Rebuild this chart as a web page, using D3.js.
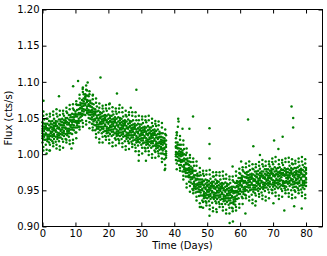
<!DOCTYPE html>
<html>
<head>
<meta charset="utf-8">
<script src="https://cdn.jsdelivr.net/npm/d3@7/dist/d3.min.js"></script>
<style>
  body { margin: 0; background: #fff; }
  svg { display: block; font-family: "DejaVu Sans", sans-serif; }
</style>
</head>
<body>
<div id="chart"></div>
<script>
// rows: [time (days), flux values read at that time ...]
var rise = [
  [0.0,1.035,1.022,1.044,1.029,1.039,1.016,1.032,1.025],
  [0.5,1.027,1.042,1.020,1.038,1.032,1.048,1.024,1.035],
  [1.0,1.037,1.029,1.020,1.042,1.013,1.035,1.039,1.027],
  [1.5,1.024,1.033,1.042,1.018,1.036,1.027,1.049,1.021],
  [2.0,1.033,1.021,1.040,1.046,1.027,1.024,1.035,1.016],
  [2.5,1.029,1.038,1.025,1.042,1.045,1.020,1.031,1.037],
  [3.0,1.037,1.024,1.046,1.031,1.041,1.018,1.034,1.027],
  [3.5,1.028,1.043,1.021,1.039,1.033,1.049,1.025,1.036],
  [4.0,1.041,1.033,1.024,1.046,1.017,1.039,1.043,1.031],
  [4.5,1.027,1.036,1.045,1.021,1.039,1.030,1.052,1.024],
  [5.0,1.035,1.023,1.042,1.048,1.029,1.026,1.037,1.018],
  [5.5,1.032,1.041,1.028,1.045,1.048,1.023,1.034,1.040],
  [6.0,1.040,1.027,1.049,1.034,1.044,1.021,1.037,1.030],
  [6.5,1.032,1.047,1.025,1.043,1.037,1.053,1.029,1.040],
  [7.0,1.045,1.037,1.028,1.050,1.021,1.043,1.047,1.035],
  [7.5,1.032,1.041,1.050,1.026,1.044,1.035,1.057,1.029],
  [8.0,1.041,1.029,1.048,1.054,1.035,1.032,1.043,1.024],
  [8.5,1.038,1.047,1.034,1.051,1.054,1.029,1.040,1.046],
  [9.0,1.047,1.034,1.056,1.041,1.051,1.028,1.044,1.037],
  [9.5,1.040,1.055,1.033,1.051,1.045,1.061,1.037,1.048],
  [10.0,1.054,1.046,1.037,1.059,1.030,1.052,1.056,1.044],
  [10.5,1.043,1.052,1.061,1.037,1.055,1.046,1.068,1.040],
  [11.0,1.055,1.043,1.062,1.068,1.049,1.046,1.057,1.038],
  [11.5,1.055,1.064,1.051,1.068,1.071,1.046,1.057,1.063],
  [12.0,1.066,1.053,1.075,1.060,1.070,1.047,1.063,1.056],
  [12.5,1.062,1.077,1.055,1.073,1.067,1.083,1.059,1.070],
  [13.0,1.078,1.070,1.061,1.083,1.054,1.076,1.080,1.068],
  [13.5,1.063,1.072,1.081,1.057,1.075,1.066,1.088,1.060],
  [14.0,1.067,1.055,1.074,1.080,1.061,1.058,1.069,1.050],
  [14.5,1.058,1.067,1.054,1.071,1.074,1.049,1.060,1.066],
  [15.0,1.061,1.048,1.070,1.055,1.065,1.042,1.058,1.051],
  [15.5,1.048,1.063,1.041,1.059,1.053,1.069,1.045,1.056],
  [16.0,1.057,1.049,1.040,1.062,1.033,1.055,1.059,1.047],
  [16.5,1.041,1.050,1.059,1.035,1.053,1.044,1.066,1.038],
  [17.0,1.047,1.035,1.054,1.060,1.041,1.038,1.049,1.030],
  [17.5,1.042,1.051,1.038,1.055,1.058,1.033,1.044,1.050],
  [18.0,1.048,1.035,1.057,1.042,1.052,1.029,1.045,1.038],
  [18.5,1.038,1.053,1.031,1.049,1.043,1.059,1.035,1.046],
  [19.0,1.049,1.041,1.032,1.054,1.025,1.047,1.051,1.039],
  [19.5,1.035,1.044,1.053,1.029,1.047,1.038,1.060,1.032]
];

var fall = [
  [20.0,1.042,1.030,1.049,1.055,1.036,1.033,1.044,1.025],
  [20.5,1.037,1.046,1.033,1.050,1.053,1.028,1.039,1.045],
  [21.0,1.044,1.031,1.053,1.038,1.048,1.025,1.041,1.034],
  [21.5,1.034,1.049,1.027,1.045,1.039,1.055,1.031,1.042],
  [22.0,1.046,1.038,1.029,1.051,1.022,1.044,1.048,1.036],
  [22.5,1.031,1.040,1.049,1.025,1.043,1.034,1.056,1.028],
  [23.0,1.038,1.026,1.045,1.051,1.032,1.029,1.040,1.021],
  [23.5,1.034,1.043,1.030,1.047,1.050,1.025,1.036,1.042],
  [24.0,1.040,1.027,1.049,1.034,1.044,1.021,1.037,1.030],
  [24.5,1.031,1.046,1.024,1.042,1.036,1.052,1.028,1.039],
  [25.0,1.042,1.034,1.025,1.047,1.018,1.040,1.044,1.032],
  [25.5,1.027,1.036,1.045,1.021,1.039,1.030,1.052,1.024],
  [26.0,1.035,1.023,1.042,1.048,1.029,1.026,1.037,1.018],
  [26.5,1.030,1.039,1.026,1.043,1.046,1.021,1.032,1.038],
  [27.0,1.036,1.023,1.045,1.030,1.040,1.017,1.033,1.026],
  [27.5,1.026,1.041,1.019,1.037,1.031,1.047,1.023,1.034],
  [28.0,1.037,1.029,1.020,1.042,1.013,1.035,1.039,1.027],
  [28.5,1.022,1.031,1.040,1.016,1.034,1.025,1.047,1.019],
  [29.0,1.029,1.017,1.036,1.042,1.023,1.020,1.031,1.012],
  [29.5,1.025,1.034,1.021,1.038,1.041,1.016,1.027,1.033],
  [30.0,1.032,1.019,1.041,1.026,1.036,1.013,1.029,1.022],
  [30.5,1.022,1.037,1.015,1.033,1.027,1.043,1.019,1.030],
  [31.0,1.033,1.025,1.016,1.038,1.009,1.031,1.035,1.023],
  [31.5,1.019,1.028,1.037,1.013,1.031,1.022,1.044,1.016],
  [32.0,1.026,1.014,1.033,1.039,1.020,1.017,1.028,1.009],
  [32.5,1.021,1.030,1.017,1.034,1.037,1.012,1.023,1.029],
  [33.0,1.028,1.015,1.037,1.022,1.032,1.009,1.025,1.018],
  [33.5,1.018,1.033,1.011,1.029,1.023,1.039,1.015,1.026],
  [34.0,1.029,1.021,1.012,1.034,1.005,1.027,1.031,1.019],
  [34.5,1.014,1.023,1.032,1.008,1.026,1.017,1.039,1.011],
  [35.0,1.021,1.009,1.028,1.034,1.015,1.012,1.023,1.004],
  [35.5,1.015,1.024,1.011,1.028,1.031,1.006,1.017,1.023],
  [36.0,1.020,1.007,1.029,1.014,1.024,1.001,1.017,1.010],
  [36.5,1.008,1.023,1.001,1.019,1.013,1.029,1.005,1.016],
  [37.0,1.017,1.009,1.000,1.022,0.993,1.015,1.019,1.007],
  [37.5,1.001,1.010,1.019,0.995,1.013,1.004,1.026,0.998]
];

var drop = [
  [40.5,1.009,0.997,1.016,1.022,1.003,1.000,1.011,0.992],
  [41.0,1.000,1.009,0.996,1.013,1.016,0.991,1.002,1.008],
  [41.5,1.004,0.991,1.013,0.998,1.008,0.985,1.001,0.994],
  [42.0,0.992,1.007,0.985,1.003,0.997,1.013,0.989,1.000],
  [42.5,1.000,0.992,0.983,1.005,0.976,0.998,1.002,0.990],
  [43.0,0.982,0.991,1.000,0.976,0.994,0.985,1.007,0.979],
  [43.5,0.986,0.974,0.993,0.999,0.980,0.977,0.988,0.969],
  [44.0,0.978,0.987,0.974,0.991,0.994,0.969,0.980,0.986],
  [44.5,0.981,0.968,0.990,0.975,0.985,0.962,0.978,0.971],
  [45.0,0.968,0.983,0.961,0.979,0.973,0.989,0.965,0.976],
  [45.5,0.976,0.968,0.959,0.981,0.952,0.974,0.978,0.966],
  [46.0,0.959,0.968,0.977,0.953,0.971,0.962,0.984,0.956],
  [46.5,0.964,0.952,0.971,0.977,0.958,0.955,0.966,0.947],
  [47.0,0.957,0.966,0.953,0.970,0.973,0.948,0.959,0.965],
  [47.5,0.961,0.948,0.970,0.955,0.965,0.942,0.958,0.951],
  [48.0,0.950,0.965,0.943,0.961,0.955,0.971,0.947,0.958],
  [48.5,0.960,0.952,0.943,0.965,0.936,0.958,0.962,0.950],
  [49.0,0.945,0.954,0.963,0.939,0.957,0.948,0.970,0.942],
  [49.5,0.952,0.940,0.959,0.965,0.946,0.943,0.954,0.935],
  [50.0,0.948,0.957,0.944,0.961,0.964,0.939,0.950,0.956],
  [50.5,0.954,0.941,0.963,0.948,0.958,0.935,0.951,0.944],
  [51.0,0.945,0.960,0.938,0.956,0.950,0.966,0.942,0.953],
  [51.5,0.957,0.949,0.940,0.962,0.933,0.955,0.959,0.947],
  [52.0,0.944,0.953,0.962,0.938,0.956,0.947,0.969,0.941],
  [52.5,0.952,0.940,0.959,0.965,0.946,0.943,0.954,0.935],
  [53.0,0.947,0.956,0.943,0.960,0.963,0.938,0.949,0.955],
  [53.5,0.953,0.940,0.962,0.947,0.957,0.934,0.950,0.943],
  [54.0,0.944,0.959,0.937,0.955,0.949,0.965,0.941,0.952],
  [54.5,0.955,0.947,0.938,0.960,0.931,0.953,0.957,0.945],
  [55.0,0.941,0.950,0.959,0.935,0.953,0.944,0.966,0.938],
  [55.5,0.948,0.936,0.955,0.961,0.942,0.939,0.950,0.931],
  [56.0,0.943,0.952,0.939,0.956,0.959,0.934,0.945,0.951],
  [56.5,0.949,0.936,0.958,0.943,0.953,0.930,0.946,0.939],
  [57.0,0.939,0.954,0.932,0.950,0.944,0.960,0.936,0.947],
  [57.5,0.950,0.942,0.933,0.955,0.926,0.948,0.952,0.940],
  [58.0,0.937,0.946,0.955,0.931,0.949,0.940,0.962,0.934],
  [58.5,0.947,0.935,0.954,0.960,0.941,0.938,0.949,0.930],
  [59.0,0.947,0.956,0.943,0.960,0.963,0.938,0.949,0.955],
  [59.5,0.958,0.945,0.967,0.952,0.962,0.939,0.955,0.948]
];

var plateau = [
  [60.0,0.952,0.967,0.945,0.963,0.957,0.973,0.949,0.960],
  [60.5,0.965,0.957,0.948,0.970,0.941,0.963,0.967,0.955],
  [61.0,0.951,0.960,0.969,0.945,0.963,0.954,0.976,0.948],
  [61.5,0.961,0.949,0.968,0.974,0.955,0.952,0.963,0.944],
  [62.0,0.959,0.968,0.955,0.972,0.975,0.950,0.961,0.967],
  [62.5,0.967,0.954,0.976,0.961,0.971,0.948,0.964,0.957],
  [63.0,0.957,0.972,0.950,0.968,0.962,0.978,0.954,0.965],
  [63.5,0.968,0.960,0.951,0.973,0.944,0.966,0.970,0.958],
  [64.0,0.954,0.963,0.972,0.948,0.966,0.957,0.979,0.951],
  [64.5,0.963,0.951,0.970,0.976,0.957,0.954,0.965,0.946],
  [65.0,0.960,0.969,0.956,0.973,0.976,0.951,0.962,0.968],
  [65.5,0.966,0.953,0.977,0.960,0.972,0.949,0.963,0.958],
  [66.0,0.959,0.974,0.952,0.970,0.964,0.980,0.956,0.967],
  [66.5,0.971,0.963,0.954,0.976,0.947,0.969,0.973,0.961],
  [67.0,0.958,0.967,0.976,0.952,0.970,0.961,0.983,0.955],
  [67.5,0.966,0.954,0.973,0.979,0.960,0.957,0.968,0.949],
  [68.0,0.963,0.972,0.959,0.976,0.979,0.954,0.965,0.971],
  [68.5,0.970,0.957,0.979,0.964,0.974,0.951,0.967,0.960],
  [69.0,0.962,0.977,0.955,0.973,0.967,0.983,0.959,0.970],
  [69.5,0.975,0.967,0.958,0.980,0.951,0.973,0.977,0.965],
  [70.0,0.961,0.970,0.979,0.955,0.973,0.964,0.986,0.958],
  [70.5,0.969,0.957,0.976,0.982,0.963,0.960,0.971,0.952],
  [71.0,0.964,0.973,0.960,0.977,0.980,0.955,0.966,0.972],
  [71.5,0.972,0.958,0.981,0.964,0.975,0.953,0.969,0.961],
  [72.0,0.963,0.976,0.955,0.974,0.966,0.982,0.959,0.970],
  [72.5,0.974,0.968,0.957,0.979,0.952,0.972,0.978,0.964],
  [73.0,0.961,0.971,0.978,0.956,0.974,0.963,0.985,0.959],
  [73.5,0.970,0.956,0.977,0.981,0.962,0.960,0.972,0.953],
  [74.0,0.963,0.974,0.961,0.976,0.979,0.955,0.967,0.971],
  [74.5,0.971,0.959,0.980,0.966,0.975,0.951,0.968,0.962],
  [75.0,0.963,0.978,0.956,0.974,0.968,0.984,0.960,0.971],
  [75.5,0.975,0.966,0.958,0.981,0.950,0.973,0.977,0.964],
  [76.0,0.962,0.970,0.979,0.954,0.973,0.965,0.986,0.958],
  [76.5,0.968,0.955,0.975,0.981,0.962,0.959,0.971,0.950],
  [77.0,0.964,0.974,0.960,0.977,0.981,0.955,0.966,0.972],
  [77.5,0.972,0.959,0.982,0.966,0.976,0.953,0.969,0.961],
  [78.0,0.963,0.978,0.956,0.975,0.968,0.984,0.960,0.971],
  [78.5,0.975,0.967,0.957,0.980,0.951,0.973,0.978,0.965],
  [79.0,0.960,0.969,0.978,0.954,0.972,0.963,0.985,0.957],
  [79.5,0.969,0.957,0.976,0.982,0.963,0.960,0.971,0.952],
  [80.0,0.965,0.974,0.961,0.978,0.981,0.956,0.967,0.973]
];

// looser points at the upper and lower edges of the band
var edges = [
  [0.25,1.053,1.010,1.059,1.005],[1.25,1.006,1.049,1.001,1.055],
  [2.25,1.052,1.005,1.056,1.013],[3.25,1.011,1.059,1.015,1.054],
  [4.25,1.056,1.013,1.062,1.008],[5.25,1.011,1.054,1.006,1.060],
  [6.25,1.056,1.009,1.060,1.017],[7.25,1.016,1.064,1.020,1.059],
  [8.25,1.062,1.019,1.068,1.014],[9.25,1.020,1.063,1.015,1.069],
  [10.25,1.069,1.022,1.073,1.030],[11.25,1.034,1.082,1.038,1.077],
  [12.25,1.086,1.043,1.092,1.038],[13.25,1.046,1.089,1.041,1.095],
  [14.25,1.083,1.036,1.087,1.044],[15.25,1.033,1.081,1.037,1.076],
  [16.25,1.071,1.028,1.077,1.023],[17.25,1.021,1.064,1.016,1.070],
  [18.25,1.063,1.016,1.067,1.024],[19.25,1.020,1.068,1.024,1.063],
  [20.25,1.063,1.020,1.069,1.015],[21.25,1.016,1.059,1.011,1.065],
  [22.25,1.059,1.012,1.063,1.020],[23.25,1.015,1.063,1.019,1.058],
  [24.25,1.058,1.015,1.064,1.010],[25.25,1.011,1.054,1.006,1.060],
  [26.25,1.054,1.007,1.058,1.015],[27.25,1.010,1.058,1.014,1.053],
  [28.25,1.052,1.009,1.058,1.004],[29.25,1.004,1.047,0.999,1.053],
  [30.25,1.048,1.001,1.052,1.009],[31.25,1.004,1.052,1.008,1.047],
  [32.25,1.047,1.004,1.053,0.999],[33.25,1.000,1.043,0.995,1.049],
  [34.25,1.042,0.995,1.046,1.003],[35.25,0.997,1.045,1.001,1.040],
  [36.25,1.037,0.994,1.043,0.989],[37.25,0.985,1.028,0.980,1.034],
  [40.75,1.026,0.979,1.030,0.987],[41.75,0.977,1.025,0.981,1.020],
  [42.75,1.013,0.970,1.019,0.965],[43.75,0.959,1.002,0.954,1.008],
  [44.75,0.995,0.948,0.999,0.956],[45.75,0.946,0.994,0.950,0.989],
  [46.75,0.984,0.941,0.990,0.936],[47.75,0.932,0.975,0.927,0.981],
  [48.75,0.973,0.926,0.977,0.934],[49.75,0.929,0.977,0.933,0.972],
  [50.75,0.972,0.929,0.978,0.924],[51.75,0.926,0.969,0.921,0.975],
  [52.75,0.971,0.924,0.975,0.932],[53.75,0.927,0.975,0.931,0.970],
  [54.75,0.970,0.927,0.976,0.922],[55.75,0.923,0.966,0.918,0.972],
  [56.75,0.965,0.918,0.969,0.926],[57.75,0.921,0.969,0.925,0.964],
  [58.75,0.970,0.927,0.976,0.922],[59.75,0.931,0.974,0.926,0.980],
  [60.75,0.978,0.931,0.982,0.939],[61.75,0.939,0.987,0.943,0.982],
  [62.75,0.984,0.941,0.990,0.936],[63.75,0.937,0.980,0.932,0.986],
  [64.75,0.982,0.935,0.986,0.943],[65.75,0.941,0.989,0.945,0.984],
  [66.75,0.986,0.943,0.992,0.938],[67.75,0.941,0.984,0.936,0.990],
  [68.75,0.986,0.939,0.990,0.947],[69.75,0.946,0.994,0.950,0.989],
  [70.75,0.990,0.947,0.996,0.942],[71.75,0.943,0.986,0.938,0.992],
  [72.75,0.988,0.941,0.992,0.949],[73.75,0.946,0.994,0.950,0.989],
  [74.75,0.989,0.946,0.995,0.941],[75.75,0.944,0.987,0.939,0.993],
  [76.75,0.987,0.940,0.991,0.948],[77.75,0.946,0.994,0.950,0.989],
  [78.75,0.990,0.947,0.996,0.942],[79.75,0.944,0.987,0.939,0.993]
];

// isolated points away from the main band: [time, flux]
var outliers = [
  [0.3,1.074],[5.0,1.080],[9.3,1.094],[10.8,1.101],[13.7,1.099],[17.6,1.106],
  [22.6,1.084],[28.5,1.089],[2.1,1.005],[8.8,1.008],[29.2,0.991],[31.4,0.991],
  [37.1,0.978],[12.2,1.090],[15.3,1.082],[20.4,1.070],[23.4,1.068],[26.8,1.064],
  [41.2,1.049],[41.3,1.045],[41.1,1.038],[40.8,1.030],[42.5,1.035],[44.6,1.035],
  [45.7,1.052],[50.7,1.036],[50.7,1.014],[50.7,0.994],[57.7,0.983],[60.3,0.990],
  [62.4,1.048],[64.0,1.011],[66.0,0.999],[70.3,1.019],[71.6,1.007],[72.9,1.024],
  [75.6,1.066],[76.1,1.050],[76.1,1.037],[56.8,0.905],[57.8,0.907],[50.7,0.915],
  [52.9,0.920],[48.2,0.927],[61.6,0.918],[73.4,0.922],[76.4,0.928],[78.7,0.925],
  [64.6,0.929],[70.1,0.932]
];

var xTicks = [0, 10, 20, 30, 40, 50, 60, 70, 80];
var yTicks = [0.90, 0.95, 1.00, 1.05, 1.10, 1.15, 1.20];

var width = 327, height = 256;
var plotLeft = 42.5, plotRight = 322.5, plotTop = 9.5, plotBottom = 226.5;

var x = d3.scaleLinear().domain([0, 85]).range([plotLeft, plotRight]);
var y = d3.scaleLinear().domain([0.90, 1.20]).range([plotBottom, plotTop]);

var points = [];
[rise, fall, drop, plateau, edges].forEach(function(rows){
	rows.forEach(function(r){
		for(var i=1; i<r.length; i++) points.push([r[0], r[i]]);
	});
});
points = points.concat(outliers);

var svg = d3.select("#chart").append("svg")
	.attr("width", width)
	.attr("height", height);

svg.append("g")
	.selectAll("circle")
	.data(points)
	.join("circle")
	.attr("cx", function(d){ return x(d[0]); })
	.attr("cy", function(d){ return y(d[1]); })
	.attr("r", 1.25)
	.attr("fill", "#008000");

// axes with inward ticks on all four sides
var gx = svg.append("g")
	.attr("transform", "translate(0," + plotBottom + ")")
	.call(d3.axisBottom(x).tickValues(xTicks).tickSizeInner(-4).tickSizeOuter(0).tickPadding(3));
var gy = svg.append("g")
	.attr("transform", "translate(" + plotLeft + ",0)")
	.call(d3.axisLeft(y).tickValues(yTicks).tickFormat(d3.format(".2f")).tickSizeInner(-4).tickSizeOuter(0).tickPadding(3));
var gt = svg.append("g")
	.attr("transform", "translate(0," + plotTop + ")")
	.call(d3.axisTop(x).tickValues(xTicks).tickFormat("").tickSizeInner(-4).tickSizeOuter(0));
var gr = svg.append("g")
	.attr("transform", "translate(" + plotRight + ",0)")
	.call(d3.axisRight(y).tickValues(yTicks).tickFormat("").tickSizeInner(-4).tickSizeOuter(0));

[gx, gy, gt, gr].forEach(function(g){
	g.select(".domain").remove();
	g.selectAll("line").attr("stroke", "#000");
	g.selectAll("text").attr("fill", "#000").style("font-size", "10px").style("font-family", "DejaVu Sans");
});

svg.append("rect")
	.attr("x", plotLeft)
	.attr("y", plotTop)
	.attr("width", plotRight - plotLeft)
	.attr("height", plotBottom - plotTop)
	.attr("fill", "none")
	.attr("stroke", "#000")
	.attr("stroke-width", 1);

svg.append("text")
	.attr("x", (plotLeft + plotRight) / 2)
	.attr("y", 248.5)
	.attr("text-anchor", "middle")
	.style("font-size", "10px")
	.text("Time (Days)");

svg.append("text")
	.attr("transform", "translate(12," + ((plotTop + plotBottom) / 2) + ") rotate(-90)")
	.attr("text-anchor", "middle")
	.style("font-size", "10px")
	.text("Flux (cts/s)");
</script>
</body>
</html>
